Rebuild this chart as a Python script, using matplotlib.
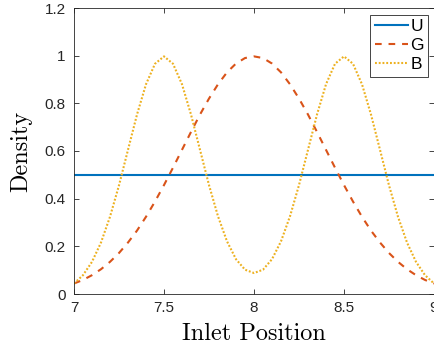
import matplotlib
matplotlib.use("Agg")
import matplotlib.pyplot as plt

# values
x_pos = [7.00, 7.05, 7.10, 7.15, 7.20, 7.25, 7.30, 7.35, 7.40, 7.45, 7.50,
         7.55, 7.60, 7.65, 7.70, 7.75, 7.80, 7.85, 7.90, 7.95, 8.00,
         8.05, 8.10, 8.15, 8.20, 8.25, 8.30, 8.35, 8.40, 8.45, 8.50,
         8.55, 8.60, 8.65, 8.70, 8.75, 8.80, 8.85, 8.90, 8.95, 9.00]
u_density = [0.5] * len(x_pos)
g_density = [0.044, 0.059, 0.079, 0.104, 0.135, 0.172, 0.216, 0.266, 0.324, 0.388, 0.457,
             0.530, 0.605, 0.680, 0.753, 0.820, 0.880, 0.930, 0.967, 0.990, 0.997,
             0.990, 0.967, 0.930, 0.880, 0.820, 0.753, 0.680, 0.605, 0.530, 0.457,
             0.388, 0.324, 0.266, 0.216, 0.172, 0.135, 0.104, 0.079, 0.059, 0.044]
b_density = [0.044, 0.079, 0.135, 0.216, 0.324, 0.456, 0.605, 0.753, 0.880, 0.966, 0.997,
             0.966, 0.880, 0.753, 0.605, 0.457, 0.326, 0.221, 0.146, 0.102, 0.088,
             0.102, 0.146, 0.221, 0.326, 0.457, 0.605, 0.753, 0.880, 0.966, 0.997,
             0.966, 0.880, 0.753, 0.605, 0.456, 0.324, 0.216, 0.135, 0.079, 0.044]
x_ticks = [7, 7.5, 8, 8.5, 9]
x_tick_labels = ["7", "7.5", "8", "8.5", "9"]
y_ticks = [0, 0.2, 0.4, 0.6, 0.8, 1.0, 1.2]
y_tick_labels = ["0", "0.2", "0.4", "0.6", "0.8", "1", "1.2"]

AXIS_COLOR = "#262626"

plt.rcParams["font.family"] = ["Liberation Sans", "DejaVu Sans"]

fig = plt.figure(figsize=(4.35, 3.5), dpi=100)
ax = fig.add_axes([74 / 435, 56 / 350, 360 / 435, 286 / 350])

ax.plot(x_pos, u_density, color="#0072BD", lw=1.5, label="U")
ax.plot(x_pos, g_density, color="#D95319", lw=1.5, dashes=(3.2, 3.3), label="G")
ax.plot(x_pos, b_density, color="#EDB120", lw=1.5, dashes=(0.9, 0.9),
        dash_capstyle="butt", label="B")

ax.set_xlim(7, 9)
ax.set_ylim(0, 1.2)
ax.set_xticks(x_ticks)
ax.set_xticklabels(x_tick_labels)
ax.set_yticks(y_ticks)
ax.set_yticklabels(y_tick_labels)
ax.tick_params(direction="in", length=3.5, width=0.6, colors=AXIS_COLOR,
               labelsize=11, top=True, right=True)
ax.tick_params(axis="y", pad=6)
ax.tick_params(axis="x", pad=5)
for sp in ax.spines.values():
    sp.set_color(AXIS_COLOR)
    sp.set_linewidth(0.6)

ax.set_xlabel("Inlet Position", fontfamily="cmr10", fontsize=17.5, color="black")
ax.set_ylabel("Density", fontfamily="cmr10", fontsize=17.5, color="black")
ax.xaxis.set_label_coords(0.5, -0.1)
ax.yaxis.set_label_coords(-0.115, 0.5)

leg = ax.legend(loc="upper right", bbox_to_anchor=(428 / 435, 335 / 350),
                bbox_transform=fig.transFigure, fontsize=12.5, fancybox=False,
                framealpha=1, edgecolor=AXIS_COLOR, borderpad=0.25,
                handlelength=1.9, handletextpad=0.15, labelspacing=0.22,
                borderaxespad=0)
leg.get_frame().set_linewidth(0.6)

fig.savefig("out.png", dpi=100)
